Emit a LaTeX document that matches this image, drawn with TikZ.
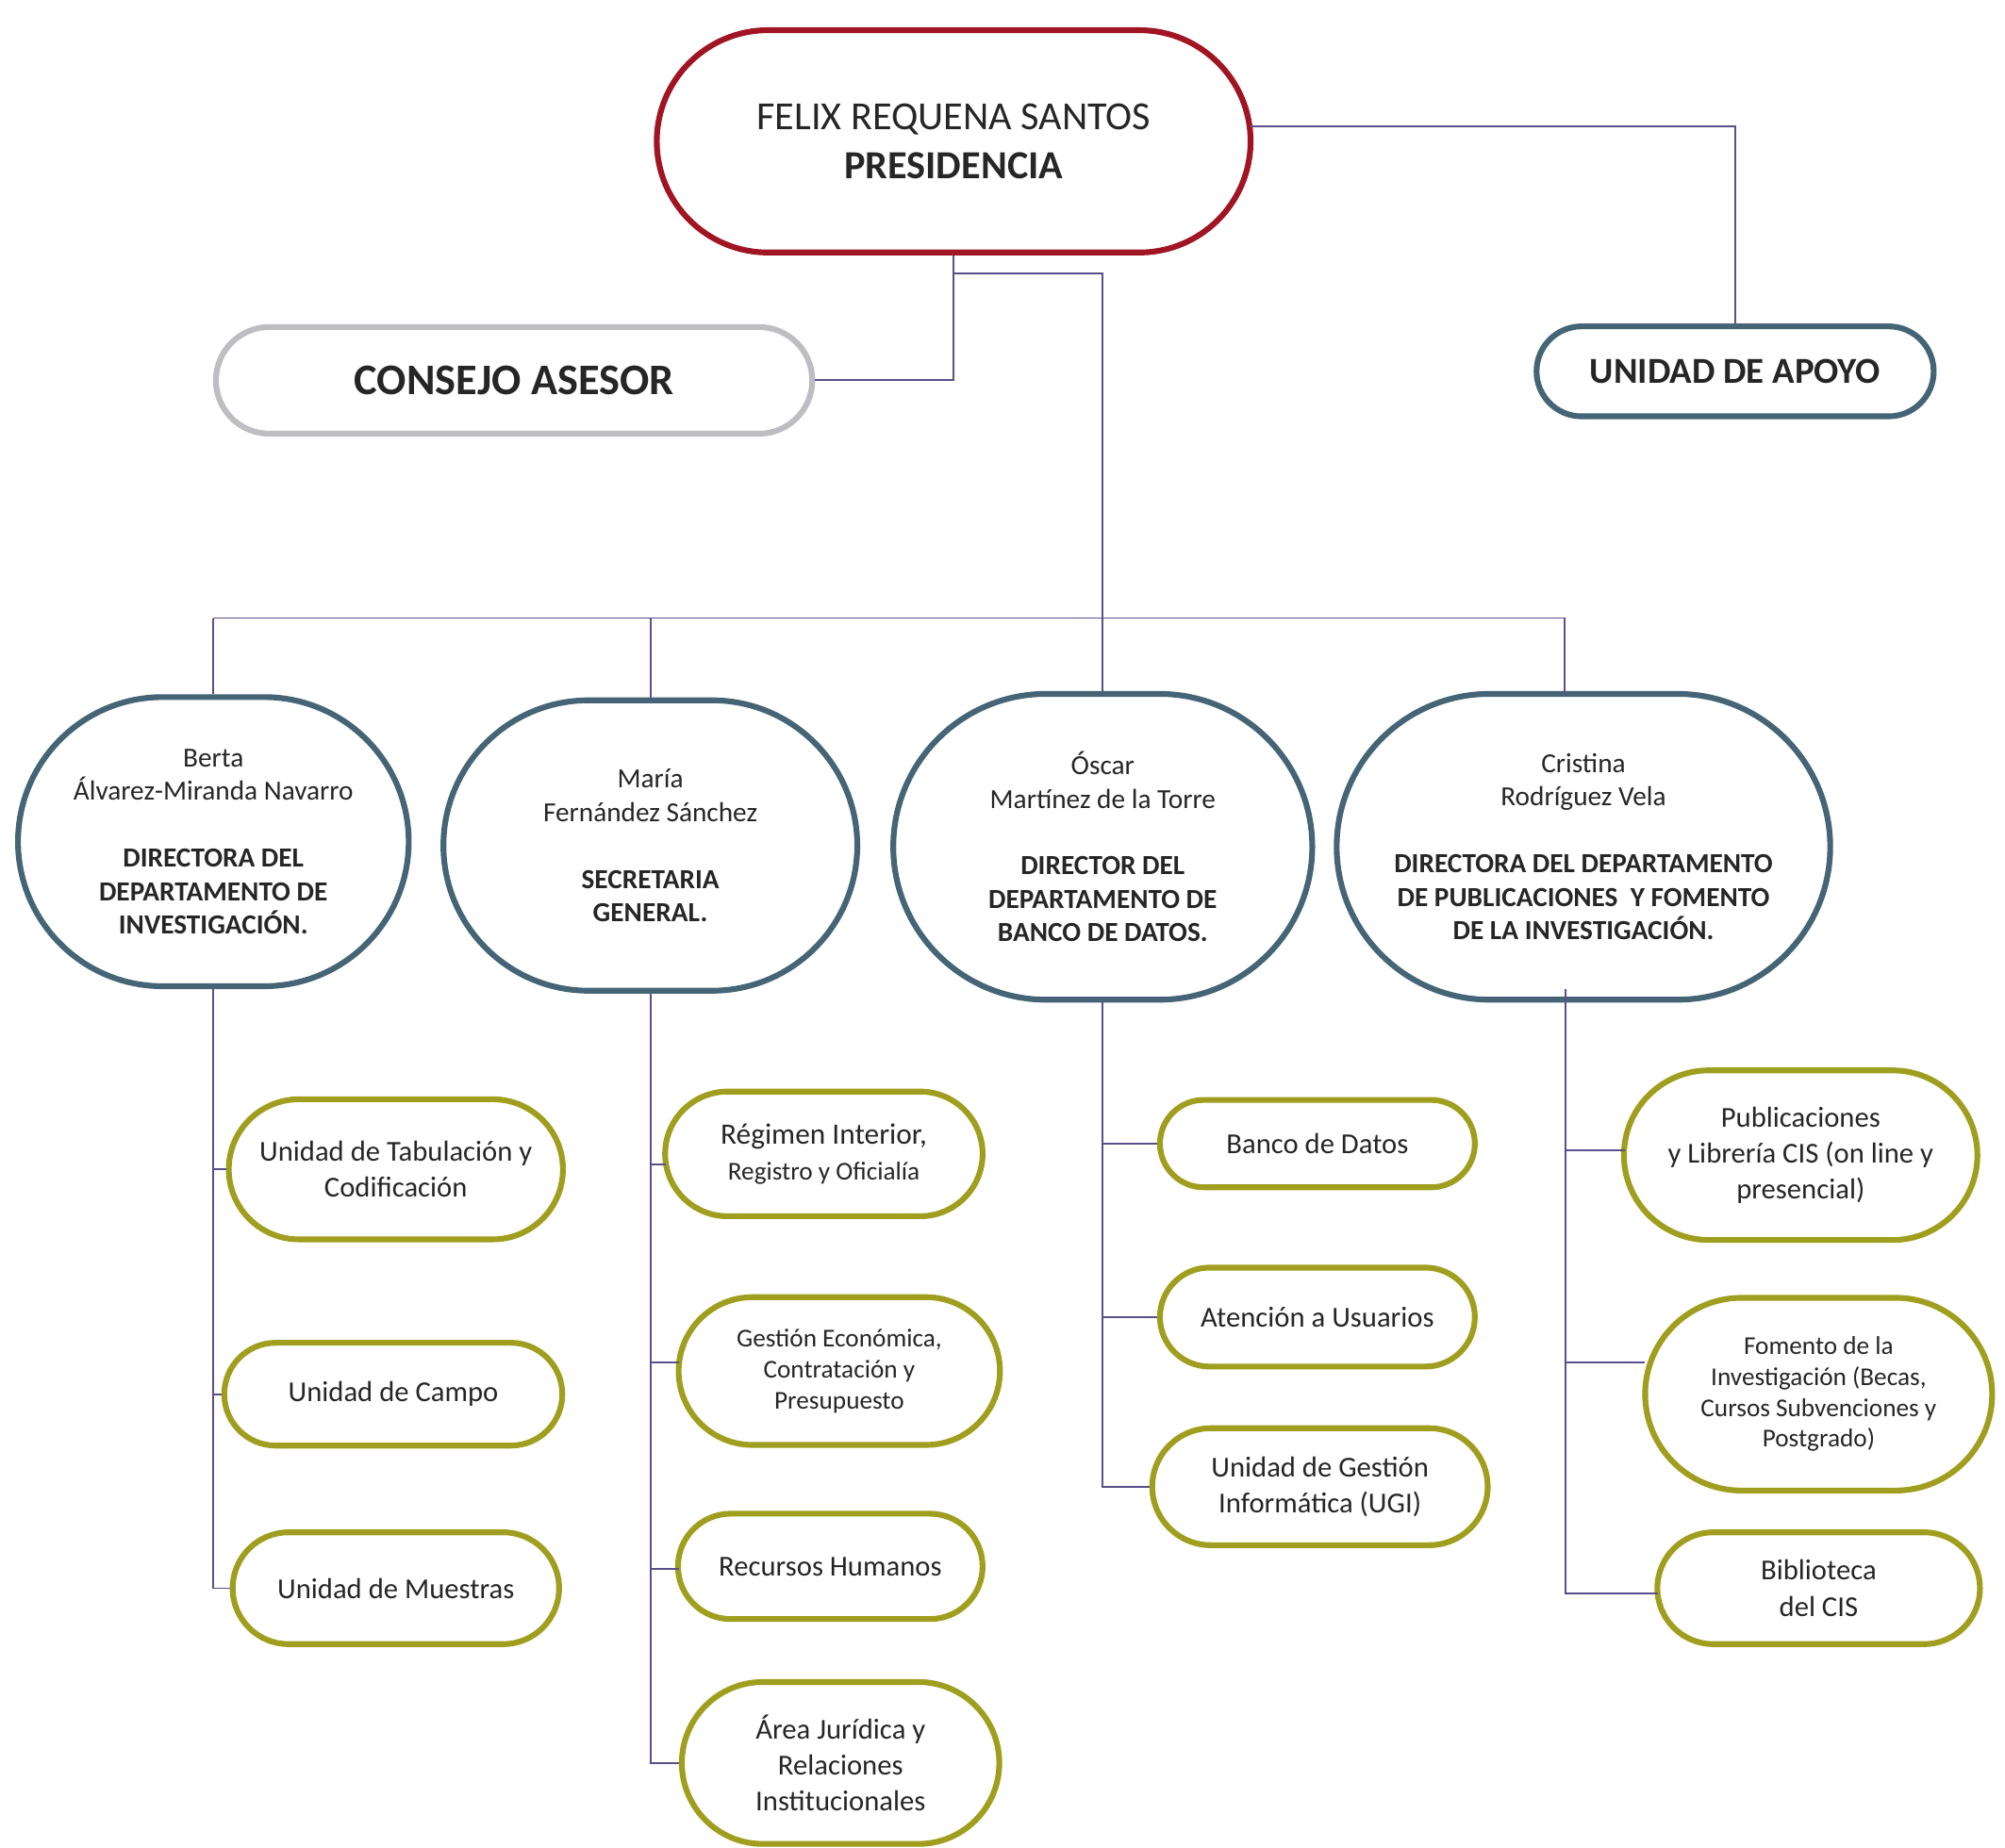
\documentclass[tikz,border=0pt]{standalone}
\usepackage{fontspec}
\setmainfont{Carlito}
\usetikzlibrary{shapes.misc}
\definecolor{cred}{HTML}{A01423}
\definecolor{cgray}{HTML}{BDBDC2}
\definecolor{cslate}{HTML}{456576}
\definecolor{colive}{HTML}{A09E1E}
\definecolor{cline}{HTML}{5A4F8A}
\begin{document}
\begin{tikzpicture}[x=1pt,y=-1pt,
 box/.style={rounded rectangle,draw,line width=4.5pt,align=center,inner sep=0pt,text=black!85},
 dir/.style={box,draw=cslate,font=\fontsize{21.5}{26}\selectfont},
 sub/.style={box,draw=colive,font=\fontsize{22.5}{28}\selectfont},
 ln/.style={draw=cline,line width=1.4pt}]
\useasboundingbox (0,0) rectangle (1560,1438);
\node[box,draw=cred,minimum width=462pt,minimum height=173pt,font=\fontsize{31}{38}\selectfont] (pres) at (742,110) {FELIX REQUENA SANTOS\\\textbf{PRESIDENCIA}};
\path[draw=cred,line width=4.5pt] (pres.north) ++(0,0);
\node[box,draw=cgray,minimum width=464pt,minimum height=83pt,font=\fontsize{34}{40}\selectfont\bfseries] (cons) at (400,296) {CONSEJO ASESOR};
\node[box,draw=cslate,minimum width=309pt,minimum height=70pt,font=\fontsize{28.5}{34}\selectfont\bfseries] (apoyo) at (1350,289) {UNIDAD DE APOYO};
\node[dir,minimum width=304pt,minimum height=225pt] (d1) at (166,655) {Berta\\Álvarez-Miranda Navarro\\[26pt]\textbf{DIRECTORA DEL}\\\textbf{DEPARTAMENTO DE}\\\textbf{INVESTIGACIÓN.}};
\node[dir,minimum width=322pt,minimum height=226pt] (d2) at (506,658) {María\\Fernández Sánchez\\[26pt]\textbf{SECRETARIA}\\\textbf{GENERAL.}};
\node[dir,minimum width=326pt,minimum height=238pt] (d3) at (858,659) {Óscar\\Martínez de la Torre\\[26pt]\textbf{DIRECTOR DEL}\\\textbf{DEPARTAMENTO DE}\\\textbf{BANCO DE DATOS.}};
\node[dir,minimum width=384pt,minimum height=238pt] (d4) at (1232,659) {Cristina\\Rodríguez Vela\\[26pt]\textbf{DIRECTORA DEL DEPARTAMENTO}\\\textbf{DE PUBLICACIONES\ \ Y FOMENTO}\\\textbf{DE LA INVESTIGACIÓN.}};
\node[sub,minimum width=260pt,minimum height=109pt] (a1) at (308,910) {Unidad de Tabulación y\\Codificación};
\node[sub,minimum width=263pt,minimum height=80pt] (a2) at (306,1085) {Unidad de Campo};
\node[sub,minimum width=254pt,minimum height=87pt] (a3) at (308,1236) {Unidad de Muestras};
\node[sub,minimum width=247pt,minimum height=97pt] (b1) at (641,898) {{\fontsize{23}{29}\selectfont Régimen Interior,}\\{\fontsize{20}{26}\selectfont Registro y Oficialía}};
\node[sub,minimum width=250pt,minimum height=115pt,font=\fontsize{20}{24}\selectfont] (b2) at (653,1067) {Gestión Económica,\\Contratación y\\Presupuesto};
\node[sub,minimum width=237pt,minimum height=82pt] (b3) at (646,1219) {Recursos Humanos};
\node[sub,minimum width=247pt,minimum height=126pt] (b4) at (654,1372) {Área Jurídica y\\Relaciones\\Institucionales};
\node[sub,minimum width=245pt,minimum height=68pt] (c1) at (1025,890) {Banco de Datos};
\node[sub,minimum width=245pt,minimum height=77pt] (c2) at (1025,1025) {Atención a Usuarios};
\node[sub,minimum width=261pt,minimum height=91pt] (c3) at (1027,1157) {Unidad de Gestión\\Informática (UGI)};
\node[sub,minimum width=275pt,minimum height=132pt] (e1) at (1401,899) {Publicaciones\\y Librería CIS (on line y\\presencial)};
\node[sub,minimum width=270pt,minimum height=150pt,font=\fontsize{20}{24}\selectfont] (e2) at (1415,1085) {Fomento de la\\Investigación (Becas,\\Cursos Subvenciones y\\Postgrado)};
\node[sub,minimum width=251pt,minimum height=87pt] (e3) at (1415,1236) {Biblioteca\\del CIS};
\coordinate (j1) at (742,296);
\coordinate (j2) at (742,213);
\coordinate (j3) at (858,213);
\coordinate (j4) at (1350,98);
\coordinate (bl) at (166,481);
\coordinate (br) at (1217,481);
\draw[ln] (pres.south) -- (j1) -- (cons.east);
\draw[ln] (j2) -- (j3) -- (d3.north);
\draw[ln] (973,98) -- (j4) -- (apoyo.north);
\draw[ln] (bl) -- (br) -- (1217,540);
\draw[ln] (bl) -- (d1.north);
\draw[ln] (506,481) -- (d2.north);
\draw[ln] (d1.south) -- (166,1236) -- (a3.west);
\draw[ln] (166,910) -- (a1.west); \draw[ln] (166,1085) -- (a2.west);
\draw[ln] (d2.south) -- (506,1372) -- (b4.west);
\draw[ln] (506,906) -- (518,906); \draw[ln] (506,1060) -- (528,1060); \draw[ln] (506,1221) -- (528,1221);
\draw[ln] (d3.south) -- (858,1157) -- (c3.west);
\draw[ln] (858,890) -- (c1.west); \draw[ln] (858,1025) -- (c2.west);
\draw[ln] (1218,770) -- (1218,1240) -- (1290,1240);
\draw[ln] (1218,895) -- (1264,895); \draw[ln] (1218,1060) -- (1280,1060);
\end{tikzpicture}
\end{document}
